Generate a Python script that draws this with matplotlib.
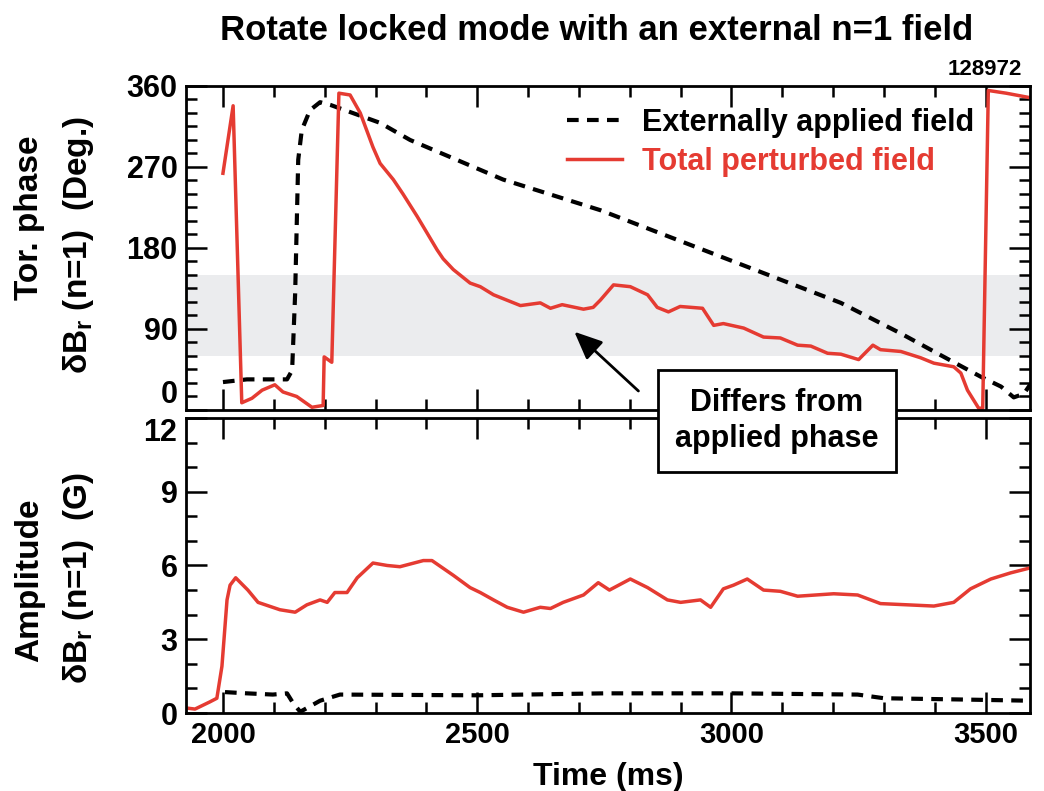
import numpy as np
import matplotlib
matplotlib.use('Agg')
import matplotlib.pyplot as plt
from matplotlib.ticker import MultipleLocator

plt.rcParams['font.family'] = ['Liberation Sans', 'DejaVu Sans']
plt.rcParams['font.weight'] = 'bold'
plt.rcParams['mathtext.fontset'] = 'custom'
plt.rcParams['mathtext.rm'] = 'Liberation Sans:bold'
plt.rcParams['mathtext.it'] = 'Liberation Sans:bold'

# toroidal phase of the n=1 field (deg)
t_phase_tot = [2000, 2020, 2037, 2057, 2077, 2102, 2118, 2145, 2175, 2197, 2199, 2214, 2220,
               2228, 2250, 2270, 2295, 2309, 2335, 2354, 2382, 2401, 2421, 2433, 2453, 2486,
               2506, 2532, 2585,
               2624, 2644, 2667, 2709, 2728, 2742, 2768, 2801, 2835, 2854, 2876, 2899, 2943,
               2965, 2984, 3024, 3063, 3096, 3130, 3156, 3189, 3215, 3250, 3278, 3293, 3333,
               3372, 3398, 3437, 3451, 3464, 3486, 3494, 3505, 3540, 3587]
phase_tot = [263, 338, 8, 13, 22, 28, 20, 15, 3, 5, 59, 53, 181,
             352, 350, 330, 292, 274, 256, 240, 215, 197, 178, 168, 156, 141,
             137, 128, 116,
             119, 113, 117, 112, 114, 122, 139, 137, 128, 114, 109, 115, 113,
             94, 96, 91, 81, 80, 72, 71, 63, 62, 56, 72, 67, 65,
             58, 52, 48, 41, 22, 2, 2, 355, 352, 347]

t_phase_ext = [2000, 2047, 2126, 2136, 2142, 2148, 2155, 2171, 2191, 2211, 2309, 2368,
               2551, 2742, 3215, 3333, 3411, 3490, 3530, 3555, 3575, 3587]
phase_ext = [31, 34, 34, 44, 130, 278, 311, 333, 342, 339, 319, 300,
             256, 222, 119, 85, 61, 37, 26, 14, 18, 28]

# amplitude of the n=1 field (G)
t_amp_tot = [1929, 1945, 1974, 1988, 1998, 2008, 2014, 2025, 2049, 2069, 2112, 2142, 2165,
             2191, 2205, 2220, 2244, 2264, 2295, 2323, 2348, 2394, 2411, 2453, 2486, 2506,
             2532, 2559, 2591, 2624, 2644, 2669, 2709, 2738, 2760, 2801, 2835, 2874, 2900,
             2939, 2959, 2984, 3004, 3031, 3063, 3096, 3130, 3201, 3248, 3293, 3346, 3398,
             3437, 3470, 3510, 3549, 3587]
amp_tot = [0.2, 0.16, 0.45, 0.6, 1.9, 4.6, 5.2, 5.5, 5.0, 4.5, 4.2, 4.1, 4.4,
           4.6, 4.5, 4.9, 4.9, 5.5, 6.1, 6.0, 5.95, 6.2, 6.2, 5.6, 5.1, 4.9,
           4.6, 4.3, 4.1, 4.3, 4.25, 4.5, 4.8, 5.3, 5.0, 5.45, 5.1, 4.6, 4.5,
           4.6, 4.3, 5.05, 5.2, 5.45, 5.0, 4.95, 4.75, 4.85, 4.8, 4.45, 4.4, 4.35,
           4.5, 5.05, 5.45, 5.7, 5.9]

t_amp_ext = [2004, 2047, 2098, 2126, 2138, 2152, 2191, 2230, 2500, 2750, 3000, 3248, 3300, 3450, 3587]
amp_ext = [0.85, 0.8, 0.75, 0.8, 0.4, 0.05, 0.5, 0.75, 0.72, 0.8, 0.8, 0.75, 0.6, 0.55, 0.5]

phase_ticks = [0, 90, 180, 270, 360]
amp_ticks = [0, 3, 6, 9, 12]
time_ticks = [2000, 2500, 3000, 3500]

red = '#e53b32'

fig = plt.figure(figsize=(10.44, 7.91), dpi=100)
ax1 = fig.add_axes([0.178, 0.4817, 0.8086, 0.4096])
ax2 = fig.add_axes([0.178, 0.0986, 0.8086, 0.373])

ax1.axhspan(60, 150, color='#ebecee', zorder=0, lw=0)
ax1.plot(t_phase_ext, phase_ext, color='black', lw=3.0, dashes=(2.8, 2.0), label='Externally applied field')
ax1.plot(t_phase_tot, phase_tot, color=red, lw=2.5, label='Total perturbed field')
ax2.plot(t_amp_ext, amp_ext, color='black', lw=3.0, dashes=(2.8, 2.0))
ax2.plot(t_amp_tot, amp_tot, color=red, lw=2.5)

for ax in (ax1, ax2):
    ax.set_xlim(1927, 3587)
    ax.set_xticks(time_ticks)
    ax.xaxis.set_minor_locator(MultipleLocator(100))
    ax.tick_params(which='both', direction='in', top=True, right=True, width=1.8, labelsize=21, pad=6)
    ax.tick_params(axis='y', labelsize=22)
    ax.tick_params(which='major', length=15)
    ax.tick_params(which='minor', length=8)
    for s in ax.spines.values():
        s.set_linewidth(2)

ax1.set_ylim(0, 360)
ax1.set_yticks(phase_ticks)
ax1.yaxis.set_minor_locator(MultipleLocator(15))
ax1.tick_params(labelbottom=False)
ax2.set_ylim(0, 12)
ax2.set_yticks(amp_ticks)
ax2.yaxis.set_minor_locator(MultipleLocator(1))

# keep the "0" and "12" labels apart where the panels meet
ax1.get_yticklabels()[0].set_va('bottom')
ax2.get_yticklabels()[-1].set_va('top')

ax2.set_xlabel('Time (ms)', fontsize=23, fontweight='bold', labelpad=9)

lab_kw = dict(rotation=90, ha='center', va='center', fontsize=24, fontweight='bold')
fig.text(30 / 1044, 1 - 218 / 791, 'Tor. phase', **lab_kw)
fig.text(78 / 1044, 1 - 245 / 791, r'$\delta$B$_\mathregular{r}$ (n=1)  (Deg.)', **lab_kw)
fig.text(30 / 1044, 1 - 580 / 791, 'Amplitude', **lab_kw)
fig.text(78 / 1044, 1 - 578 / 791, r'$\delta$B$_\mathregular{r}$ (n=1)  (G)', **lab_kw)

leg = ax1.legend(loc='upper right', bbox_to_anchor=(0.966, 1.018), frameon=False, fontsize=22,
                 handlelength=1.8, handletextpad=0.65, labelspacing=0.3)
leg.get_texts()[1].set_color(red)

fig.text(597 / 1044, 1 - 30 / 791, 'Rotate locked mode with an external n=1 field',
         ha='center', va='center', fontsize=25, fontweight='bold')
fig.text(1022 / 1044, 1 - 80 / 791, '128972', ha='right', va='bottom', fontsize=16, fontweight='bold')

ax1.annotate('', xy=(2687, 89), xytext=(2821, 19),
             arrowprops=dict(arrowstyle='-|>,head_length=1.7,head_width=0.75', color='black', lw=2))
fig.text(777 / 1044, 1 - 421 / 791, 'Differs from\napplied phase', ha='center', va='center', fontsize=22,
         fontweight='bold', linespacing=1.25, zorder=10,
         bbox=dict(boxstyle='square,pad=0.58', fc='white', ec='black', lw=2))

fig.savefig('out.png', dpi=100)
